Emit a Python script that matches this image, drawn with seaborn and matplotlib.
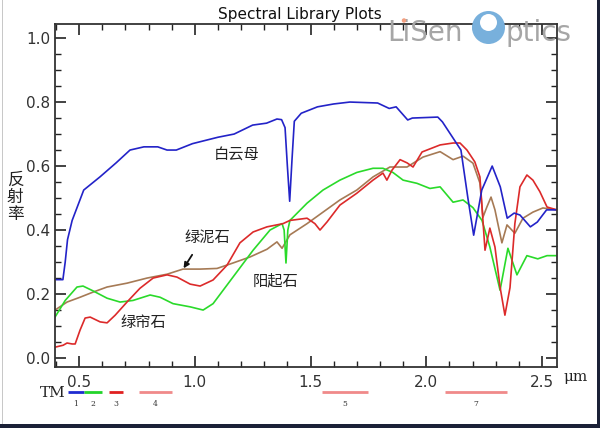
import matplotlib
matplotlib.use("Agg")
import matplotlib.pyplot as plt
from matplotlib.patches import Rectangle, Ellipse
from matplotlib.ticker import MultipleLocator
import seaborn as sns
import pandas as pd

# --- spectra (wavelength um, reflectance) ---
muscovite_x = [0.40, 0.43, 0.44, 0.45, 0.46, 0.47, 0.52, 0.59, 0.66, 0.72, 0.78, 0.84, 0.88, 0.92,
               0.99, 1.10, 1.17, 1.25, 1.31, 1.355, 1.375, 1.39, 1.40, 1.41, 1.42, 1.43, 1.46,
               1.53, 1.60, 1.67, 1.79, 1.84, 1.87, 1.92, 1.94, 2.05, 2.07, 2.15, 2.18, 2.205,
               2.24, 2.285, 2.32, 2.35, 2.38, 2.405, 2.45, 2.48, 2.52, 2.56]
muscovite_y = [0.245, 0.245, 0.30, 0.37, 0.40, 0.43, 0.525, 0.566, 0.61, 0.65, 0.66, 0.66, 0.65, 0.65,
               0.67, 0.69, 0.70, 0.728, 0.734, 0.747, 0.745, 0.72, 0.60, 0.49, 0.62, 0.74, 0.765,
               0.785, 0.794, 0.80, 0.797, 0.78, 0.785, 0.744, 0.75, 0.753, 0.738, 0.65, 0.50, 0.384,
               0.525, 0.60, 0.535, 0.437, 0.453, 0.447, 0.41, 0.425, 0.463, 0.463]

actinolite_x = [0.396, 0.44, 0.491, 0.517, 0.56, 0.621, 0.677, 0.733, 0.807, 0.85, 0.906, 0.98,
                1.036, 1.079, 1.165, 1.252, 1.325, 1.377, 1.386, 1.394, 1.402, 1.411, 1.485, 1.554,
                1.627, 1.70, 1.77, 1.813, 1.856, 1.90, 1.96, 2.016, 2.06, 2.116, 2.159, 2.202,
                2.241, 2.275, 2.319, 2.353, 2.392, 2.435, 2.482, 2.522, 2.565]
actinolite_y = [0.128, 0.18, 0.222, 0.225, 0.21, 0.187, 0.175, 0.18, 0.197, 0.19, 0.17, 0.16,
                0.15, 0.17, 0.253, 0.337, 0.40, 0.42, 0.40, 0.297, 0.40, 0.43, 0.484, 0.525,
                0.556, 0.58, 0.593, 0.593, 0.58, 0.556, 0.546, 0.53, 0.535, 0.487, 0.494, 0.47,
                0.43, 0.347, 0.212, 0.343, 0.26, 0.32, 0.31, 0.32, 0.32]

epidote_x = [0.396, 0.431, 0.448, 0.47, 0.483, 0.504, 0.526, 0.548, 0.591, 0.621, 0.656, 0.707,
             0.763, 0.82, 0.88, 0.923, 0.98, 1.023, 1.079, 1.139, 1.195, 1.252, 1.312, 1.381,
             1.411, 1.485, 1.519, 1.541, 1.571, 1.627, 1.70, 1.77, 1.813, 1.83, 1.852, 1.887,
             1.917, 1.943, 1.982, 2.06, 2.116, 2.146, 2.176, 2.21, 2.232, 2.254, 2.275, 2.297,
             2.319, 2.34, 2.362, 2.383, 2.405, 2.435, 2.461, 2.491, 2.522, 2.565]
epidote_y = [0.034, 0.04, 0.047, 0.044, 0.044, 0.087, 0.125, 0.128, 0.113, 0.11, 0.134, 0.175,
             0.218, 0.25, 0.26, 0.253, 0.231, 0.225, 0.244, 0.29, 0.36, 0.394, 0.41, 0.42,
             0.43, 0.437, 0.42, 0.40, 0.425, 0.478, 0.515, 0.556, 0.578, 0.556, 0.587, 0.62,
             0.61, 0.597, 0.644, 0.666, 0.672, 0.672, 0.65, 0.613, 0.566, 0.337, 0.406, 0.347,
             0.222, 0.134, 0.22, 0.42, 0.535, 0.572, 0.556, 0.52, 0.472, 0.463]

chlorite_x = [0.396, 0.448, 0.504, 0.56, 0.621, 0.707, 0.794, 0.88, 0.949, 1.023, 1.096, 1.165,
              1.239, 1.312, 1.355, 1.377, 1.411, 1.485, 1.554, 1.627, 1.70, 1.77, 1.843, 1.917,
              1.986, 2.06, 2.116, 2.159, 2.202, 2.232, 2.245, 2.262, 2.28, 2.297, 2.327, 2.349,
              2.383, 2.418, 2.461, 2.504, 2.565]
chlorite_y = [0.15, 0.175, 0.19, 0.206, 0.222, 0.234, 0.25, 0.262, 0.278, 0.278, 0.28, 0.297,
              0.316, 0.34, 0.363, 0.343, 0.385, 0.42, 0.456, 0.494, 0.525, 0.566, 0.597, 0.597,
              0.628, 0.645, 0.62, 0.631, 0.609, 0.547, 0.44, 0.472, 0.503, 0.463, 0.36, 0.416,
              0.39, 0.437, 0.456, 0.469, 0.463]

# TM bands shown under the axis
tm_bands = ["1", "2", "3", "4", "5", "7"]
tm_lo = [0.45, 0.52, 0.63, 0.76, 1.55, 2.08]
tm_hi = [0.52, 0.60, 0.69, 0.90, 1.75, 2.35]
tm_colors = ["#1f2bd0", "#22d42a", "#e02020", "#f08a8a", "#f08a8a", "#f08a8a"]

BLUE = "#2323c8"
GREEN = "#2ada2a"
RED = "#dc2a2a"
BROWN = "#a67a55"
NAVY = "#1b2137"
WM_GRAY = "#a6a6a6"

sns.set_style("ticks")
plt.rcParams['font.family'] = ['DejaVu Sans', 'Noto Sans CJK SC']
CJK = ['Noto Sans CJK SC', 'DejaVu Sans']

frames = []
for name, xs, ys in [("muscovite", muscovite_x, muscovite_y),
                     ("actinolite", actinolite_x, actinolite_y),
                     ("epidote", epidote_x, epidote_y),
                     ("chlorite", chlorite_x, chlorite_y)]:
    frames.append(pd.DataFrame({"wl": xs, "refl": ys, "mineral": name}))
df = pd.concat(frames, ignore_index=True)

fig = plt.figure(figsize=(6, 4.28), dpi=100)
fig.patch.set_facecolor("white")
ax = fig.add_axes([0.0917, 0.1425, 0.8366, 0.8015])

sns.lineplot(data=df, x="wl", y="refl", hue="mineral", estimator=None, sort=False,
             palette={"muscovite": BLUE, "actinolite": GREEN, "epidote": RED, "chlorite": BROWN},
             hue_order=["chlorite", "actinolite", "epidote", "muscovite"],
             linewidth=1.2, legend=False, ax=ax)

ax.set_xlim(0.396, 2.565)
ax.set_ylim(-0.028, 1.044)
ax.xaxis.set_major_locator(MultipleLocator(0.5))
ax.xaxis.set_minor_locator(MultipleLocator(0.1))
ax.yaxis.set_major_locator(MultipleLocator(0.2))
ax.yaxis.set_minor_locator(MultipleLocator(0.05))
ax.tick_params(which="both", direction="in", top=True, right=True, color="#222222",
               labelcolor="#333333", labelsize=11)
ax.tick_params(which="major", length=8, width=1.2)
ax.tick_params(which="minor", length=4, width=1.0)
ax.tick_params(axis="x", pad=6)
ax.set_xticks([0.5, 1.0, 1.5, 2.0, 2.5])
ax.set_xticklabels(["0.5", "1.0", "1.5", "2.0", "2.5"])
ax.set_yticks([0.0, 0.2, 0.4, 0.6, 0.8, 1.0])
ax.set_yticklabels(["0.0", "0.2", "0.4", "0.6", "0.8", "1.0"])
for sp in ax.spines.values():
    sp.set_color("#333333")
    sp.set_linewidth(1.3)
ax.set_xlabel("")
ax.set_ylabel("")

# mineral labels
ax.text(1.18, 0.634, "白云母", family=CJK, fontsize=11, ha="center", va="center", color="#222222")
ax.text(1.053, 0.378, "绿泥石", family=CJK, fontsize=11, ha="center", va="center", color="#222222")
ax.text(1.347, 0.24, "阳起石", family=CJK, fontsize=11, ha="center", va="center", color="#222222")
ax.text(0.776, 0.1125, "绿帘石", family=CJK, fontsize=11, ha="center", va="center", color="#222222")
ax.annotate("", xy=(0.945, 0.273), xytext=(0.995, 0.33),
            arrowprops=dict(arrowstyle="-|>", color="#111111", lw=1.3, mutation_scale=8))

# TM band bars under the axis
trans = ax.get_xaxis_transform()
for b, lo, hi, c in zip(tm_bands, tm_lo, tm_hi, tm_colors):
    ax.plot([lo, hi], [-0.073, -0.073], color=c, lw=2, transform=trans, clip_on=False,
            solid_capstyle="butt")
    ax.text((lo + hi) / 2, -0.107, b, transform=trans, fontsize=5.5, ha="center", va="center",
            family="DejaVu Serif", color="#333333")

fig.text(40 / 600, 1 - 393 / 428, "TM", fontsize=11, family="DejaVu Serif", ha="left",
         va="center", color="#222222")
fig.text(563 / 600, 1 - 377 / 428, "μm", fontsize=11, family="DejaVu Serif", ha="left",
         va="center", color="#222222")
fig.text(15 / 600, 1 - 197 / 428, "反\n射\n率", family=CJK, fontsize=12, ha="center",
         va="center", linespacing=1.0, color="#222222")
fig.text(0.5, 1 - 14 / 428, "Spectral Library Plots", fontsize=11, ha="center", va="center",
         color="#111111")

# watermark (drawn over the axes, like the overlay in the screenshot)
fig.text(387 / 600, 1 - 41 / 428, "LiSen", fontsize=20, family="DejaVu Sans",
         color=WM_GRAY, ha="left", va="baseline", zorder=10)
fig.text(505 / 600, 1 - 41 / 428, "ptics", fontsize=20, family="DejaVu Sans",
         color=WM_GRAY, ha="left", va="baseline", zorder=10)
fig.patches.append(Ellipse((488.5 / 600, 1 - 27.5 / 428), 33 / 600, 33 / 428,
                           transform=fig.transFigure, facecolor="#78b0dc", edgecolor="none",
                           zorder=10))
fig.patches.append(Ellipse((488.5 / 600, 1 - 22.5 / 428), 17 / 600, 17 / 428,
                           transform=fig.transFigure, facecolor="white", edgecolor="none",
                           zorder=11))
fig.patches.append(Ellipse((404 / 600, 1 - 20.5 / 428), 4.5 / 600, 4.5 / 428,
                           transform=fig.transFigure, facecolor="#f4a080", edgecolor="none",
                           zorder=11))

# screenshot frame
fig.patches.append(Rectangle((597 / 600, 0), 3 / 600, 1, transform=fig.transFigure,
                             facecolor=NAVY, edgecolor="none", zorder=12))
fig.patches.append(Rectangle((0, 0), 1, 4 / 428, transform=fig.transFigure,
                             facecolor=NAVY, edgecolor="none", zorder=12))
fig.patches.append(Rectangle((2 / 600, 4 / 428), 1 / 600, 1, transform=fig.transFigure,
                             facecolor="#c8c8c8", edgecolor="none", zorder=12))

fig.savefig("out.png", dpi=100, facecolor="white")
